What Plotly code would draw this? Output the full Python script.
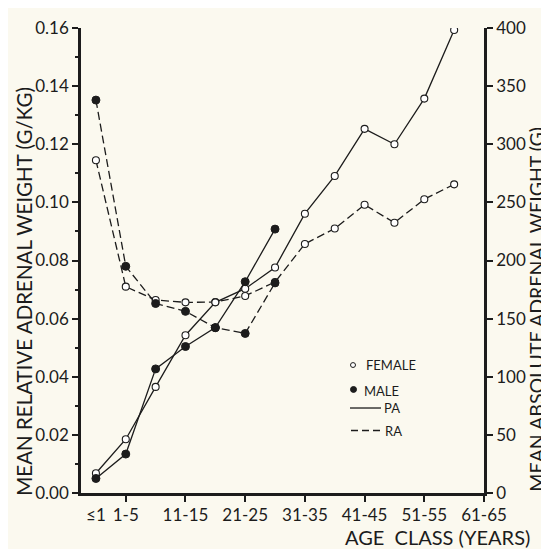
import plotly.graph_objects as go

# ---- data ----
age_classes = ["≤1", "1-5", "6-10", "11-15", "16-20", "21-25", "26-30",
               "31-35", "36-40", "41-45", "46-50", "51-55", "56-60", "61-65"]
tick_labels = ["≤1", "1-5", "11-15", "21-25", "31-35", "41-45", "51-55", "61-65"]

female_pa = [0.0068, 0.0185, 0.0365, 0.0543, 0.0656, 0.0703, 0.0776,
             0.0961, 0.1091, 0.1253, 0.1200, 0.1357, 0.1593]
male_pa = [0.0050, 0.0134, 0.0427, 0.0504, 0.0569, 0.0727, 0.0908]
female_ra = [0.1145, 0.0710, 0.0664, 0.0656, 0.0657, 0.0678, 0.0726,
             0.0857, 0.0910, 0.0992, 0.0930, 0.1011, 0.1062]
male_ra = [0.1352, 0.0780, 0.0652, 0.0625, 0.0569, 0.0549, 0.0723]

idx = {c: i for i, c in enumerate(age_classes)}
tickvals = [idx[t] for t in tick_labels]

INK = "#1c1c1c"
BG = "#fbf9ef"
FONT = "Lato"

def xs(n):
    return [idx[c] for c in age_classes[:n]]

open_marker = dict(symbol="circle", size=7, color="white", line=dict(color=INK, width=1.1))
fill_marker = dict(symbol="circle", size=8, color=INK, line=dict(color=INK, width=1))
dash = "8px,4px"

fig = go.Figure()
fig.add_trace(go.Scatter(x=xs(len(female_ra)), y=female_ra, mode="lines+markers",
                         line=dict(color=INK, width=1.3, dash=dash), marker=open_marker,
                         name="Female RA"))
fig.add_trace(go.Scatter(x=xs(len(male_ra)), y=male_ra, mode="lines+markers",
                         line=dict(color=INK, width=1.3, dash=dash), marker=fill_marker,
                         name="Male RA"))
fig.add_trace(go.Scatter(x=xs(len(female_pa)), y=female_pa, mode="lines+markers",
                         line=dict(color=INK, width=1.3), marker=open_marker,
                         name="Female PA"))
fig.add_trace(go.Scatter(x=xs(len(male_pa)), y=male_pa, mode="lines+markers",
                         line=dict(color=INK, width=1.3), marker=fill_marker,
                         name="Male PA"))
# dummy trace to activate the right axis
fig.add_trace(go.Scatter(x=[None], y=[None], yaxis="y2", showlegend=False, hoverinfo="skip"))

tickfont = dict(family=FONT, size=17, color=INK)

# page body has an 8px margin: size/offset the figure to compensate
fig.update_layout(
    width=541, height=541,
    margin=dict(l=73, r=65, t=9, b=56),
    paper_bgcolor=BG, plot_bgcolor=BG,
    showlegend=False,
    font=dict(family=FONT, color=INK),
    xaxis=dict(range=[-0.5, 13], tickvals=tickvals, ticktext=tick_labels,
               ticks="outside", ticklen=0, ticklabelstandoff=5,
               showgrid=False, zeroline=False,
               showline=True, linecolor=INK, linewidth=2.6, tickfont=tickfont,
               minor=dict(tick0=1, dtick=2, ticks="outside", ticklen=6,
                          tickwidth=2, tickcolor=INK)),
    yaxis=dict(range=[0, 0.16], dtick=0.02, tickformat=".2f", ticks="outside",
               ticklen=6, tickwidth=2, tickcolor=INK, showgrid=False, zeroline=False,
               showline=True, linecolor=INK, linewidth=2.6, tickfont=tickfont,
               ticklabeloverflow="allow",
               minor=dict(dtick=0.01, ticks="outside", ticklen=3, tickwidth=2,
                          tickcolor=INK)),
    yaxis2=dict(range=[0, 400], dtick=50, overlaying="y", side="right", anchor="x",
                ticks="outside", ticklen=6, tickwidth=2, tickcolor=INK,
                showgrid=False, zeroline=False, showline=True, linecolor=INK,
                linewidth=2.6, tickfont=tickfont, ticklabeloverflow="allow"),
)

title_font = dict(family=FONT, size=20.5, color=INK)
annotations = [
    dict(text="MEAN RELATIVE ADRENAL WEIGHT (G/KG)", xref="paper", yref="paper",
         x=-0.1414, y=0.433, textangle=-90, showarrow=False, font=title_font,
         xanchor="center", yanchor="middle"),
    dict(text="MEAN ABSOLUTE ADRENAL WEIGHT (G)", xref="paper", yref="paper",
         x=1.13, y=0.395, textangle=-90, showarrow=False,
         font=dict(family=FONT, size=19.5, color=INK),
         xanchor="center", yanchor="middle"),
    dict(text="AGE  CLASS (YEARS)", xref="paper", yref="paper",
         x=1.119, y=-0.095, showarrow=False, font=dict(family=FONT, size=20, color=INK),
         xanchor="right", yanchor="middle"),
]
legend_font = dict(family=FONT, size=13, color=INK)
annotations += [
    dict(text="FEMALE", xref="paper", yref="paper", x=0.703, y=0.275,
         xanchor="left", yanchor="middle", showarrow=False, font=legend_font),
    dict(text="MALE", xref="paper", yref="paper", x=0.698, y=0.219,
         xanchor="left", yanchor="middle", showarrow=False, font=legend_font),
    dict(text="PA", xref="paper", yref="paper", x=0.747, y=0.183,
         xanchor="left", yanchor="middle", showarrow=False, font=legend_font),
    dict(text="RA", xref="paper", yref="paper", x=0.750, y=0.134,
         xanchor="left", yanchor="middle", showarrow=False, font=legend_font),
]
fig.update_layout(annotations=annotations)

# legend key glyphs (paper coordinates, from reference pixel positions)
def px(xpix):
    return (xpix - 81) / 403
def py(ypix):
    return (493 - ypix) / 476

shapes = [
    dict(type="circle", xref="paper", yref="paper", x0=px(350.5), x1=px(355.5),
         y0=py(364.5), y1=py(359.5), line=dict(color=INK, width=1), fillcolor="white"),
    dict(type="circle", xref="paper", yref="paper", x0=px(350.5), x1=px(356.5),
         y0=py(390), y1=py(384), line=dict(color=INK, width=1), fillcolor=INK),
    dict(type="line", xref="paper", yref="paper", x0=px(350), x1=px(381),
         y0=py(406), y1=py(406), line=dict(color=INK, width=1.3)),
    dict(type="line", xref="paper", yref="paper", x0=px(351), x1=px(382),
         y0=py(429), y1=py(429), line=dict(color=INK, width=1.3, dash="7px,4px")),
]
fig.update_layout(shapes=shapes)

fig.write_html("out.html")
